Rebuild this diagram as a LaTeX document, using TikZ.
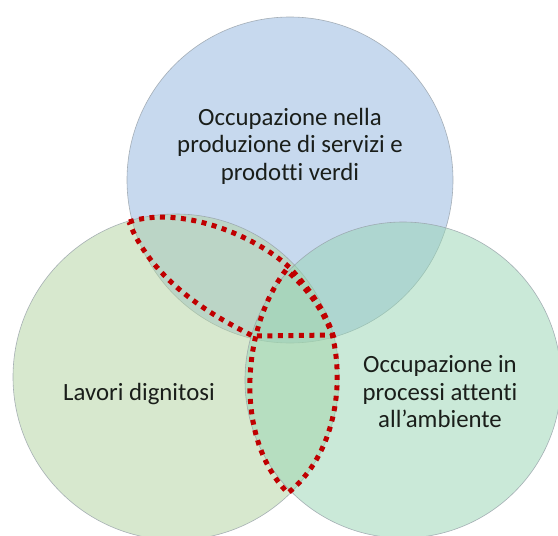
\documentclass[tikz,border=0pt]{standalone}
\usepackage{fontspec}
\setmainfont{Carlito}[Ligatures={NoCommon}]
\definecolor{topc}{RGB}{145,181,223}
\definecolor{leftc}{RGB}{177,211,159}
\definecolor{rightc}{RGB}{151,213,179}
\definecolor{edgec}{RGB}{150,160,168}
\definecolor{dotred}{RGB}{192,0,0}
\definecolor{txtc}{RGB}{26,30,26}
\begin{document}
\begin{tikzpicture}[x=1pt,y=-1pt,
  venn/.style={fill opacity=0.5, draw=edgec, draw opacity=0.8, line width=0.6pt},
  redot/.style={draw=dotred, line width=5pt, dash pattern=on 5pt off 5.5pt, line join=miter},
  lbl/.style={font=\fontsize{24.8}{27.5}\selectfont, text=txtc, align=center, inner sep=0pt}]
\useasboundingbox (0,0) rectangle (558,536);
\clip (0,0) rectangle (558,536);
\fill[white] (0,0) rectangle (558,536);
% circles
\path[venn, fill=topc] (290,180) circle[radius=163];
\path[venn, fill=leftc] (176,377) circle[radius=163];
\path[venn, fill=rightc] (403,380) circle[radius=158];
% dotted outlines
\draw[redot] (129,222) .. controls (180,205) and (255,235) .. (290,268)
  .. controls (310,290) and (325,310) .. (333,335) -- (253,336)
  .. controls (200,310) and (150,275) .. (129,222) -- cycle;
\draw[redot] (286,270) .. controls (240,330) and (235,440) .. (288,493)
  .. controls (335,455) and (345,385) .. (332,334)
  .. controls (322,308) and (306,287) .. (286,270) -- cycle;
% labels
\node[lbl] (top) at (290,146) {Occupazione nella\\produzione di servizi e\\prodotti verdi};
\node[lbl, anchor=base] (left) at (139,400) {Lavori dignitosi};
\node[lbl] (right) at (440,392) {Occupazione in\\processi attenti\\all’ambiente};
\end{tikzpicture}
\end{document}
